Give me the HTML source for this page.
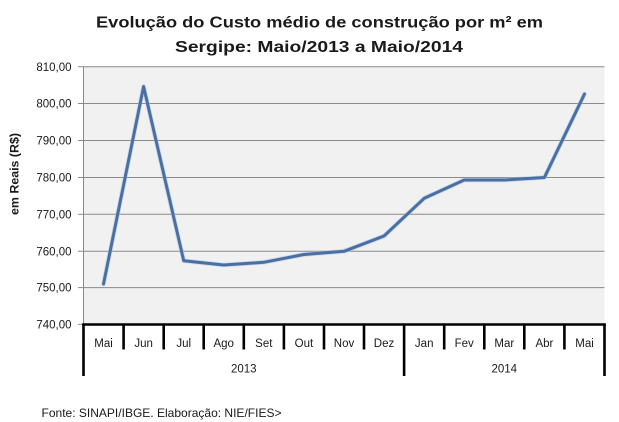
<!DOCTYPE html>
<html>
<head>
<meta charset="utf-8">
<style>
html,body{margin:0;padding:0;background:#fff;}
svg{display:block;}
text{font-family:"Liberation Sans",sans-serif;fill:#1a1a1a;}
</style>
</head>
<body>
<svg width="619" height="422" viewBox="0 0 619 422" xmlns="http://www.w3.org/2000/svg">
  <rect x="0" y="0" width="619" height="422" fill="#ffffff"/>
  <!-- Title -->
  <text x="96" y="27.5" font-size="16" font-weight="bold" textLength="447" lengthAdjust="spacingAndGlyphs">Evolução  do Custo médio de construção  por m² em</text>
  <text x="175" y="52" font-size="16" font-weight="bold" textLength="288" lengthAdjust="spacingAndGlyphs">Sergipe: Maio/2013  a Maio/2014</text>

  <!-- Plot area -->
  <rect x="83.5" y="66.7" width="521" height="257.6" fill="#f1f1f1"/>
  <g stroke="#8a8a8a" stroke-width="1">
    <line x1="83.5" y1="66.7" x2="604.5" y2="66.7"/>
    <line x1="83.5" y1="103.5" x2="604.5" y2="103.5"/>
    <line x1="83.5" y1="140.5" x2="604.5" y2="140.5"/>
    <line x1="83.5" y1="177.5" x2="604.5" y2="177.5"/>
    <line x1="83.5" y1="214.3" x2="604.5" y2="214.3"/>
    <line x1="83.5" y1="251.2" x2="604.5" y2="251.2"/>
    <line x1="83.5" y1="287.6" x2="604.5" y2="287.6"/>
    <line x1="78" y1="66.7" x2="83.5" y2="66.7"/>
    <line x1="78" y1="103.5" x2="83.5" y2="103.5"/>
    <line x1="78" y1="140.5" x2="83.5" y2="140.5"/>
    <line x1="78" y1="177.5" x2="83.5" y2="177.5"/>
    <line x1="78" y1="214.3" x2="83.5" y2="214.3"/>
    <line x1="78" y1="251.2" x2="83.5" y2="251.2"/>
    <line x1="78" y1="287.6" x2="83.5" y2="287.6"/>
    <line x1="78" y1="324.3" x2="83.5" y2="324.3"/>
    <line x1="83.5" y1="66.7" x2="83.5" y2="324.3"/>
  </g>

  <!-- Y labels -->
  <g font-size="11.5" text-anchor="end">
    <text x="71.5" y="70.8">810,00</text>
    <text x="71.5" y="107.6">800,00</text>
    <text x="71.5" y="144.6">790,00</text>
    <text x="71.5" y="181.6">780,00</text>
    <text x="71.5" y="218.4">770,00</text>
    <text x="71.5" y="255.3">760,00</text>
    <text x="71.5" y="291.7">750,00</text>
    <text x="71.5" y="328.4">740,00</text>
  </g>

  <!-- Y axis title -->
  <text transform="translate(18.5,174) rotate(-90)" font-size="12" font-weight="bold" text-anchor="middle" textLength="82" lengthAdjust="spacingAndGlyphs">em Reais (R$)</text>

  <!-- Data line -->
  <polyline fill="none" stroke="#a9c4e6" stroke-width="4.6" stroke-linejoin="round" stroke-linecap="round" opacity="0.55"
    points="103.5,284 143.6,86.5 183.7,260.7 223.7,265 263.8,262.3 303.9,254.5 344,251.3 384,236 424.2,198.3 464.2,180 504.3,180 544.4,177.5 584.5,94"/>
  <polyline fill="none" stroke="#4a6fa3" stroke-width="3" stroke-linejoin="round" stroke-linecap="round"
    points="103.5,284 143.6,86.5 183.7,260.7 223.7,265 263.8,262.3 303.9,254.5 344,251.3 384,236 424.2,198.3 464.2,180 504.3,180 544.4,177.5 584.5,94"/>

  <!-- Category axis -->
  <g stroke="#000" stroke-width="2.6">
    <line x1="82.2" y1="324.5" x2="605.8" y2="324.5"/>
    <line x1="83.5" y1="323.5" x2="83.5" y2="376"/>
    <line x1="123.6" y1="323.5" x2="123.6" y2="349.5"/>
    <line x1="163.7" y1="323.5" x2="163.7" y2="349.5"/>
    <line x1="203.7" y1="323.5" x2="203.7" y2="349.5"/>
    <line x1="243.8" y1="323.5" x2="243.8" y2="349.5"/>
    <line x1="283.9" y1="323.5" x2="283.9" y2="349.5"/>
    <line x1="324" y1="323.5" x2="324" y2="349.5"/>
    <line x1="364" y1="323.5" x2="364" y2="349.5"/>
    <line x1="404.1" y1="323.5" x2="404.1" y2="376"/>
    <line x1="444.2" y1="323.5" x2="444.2" y2="349.5"/>
    <line x1="484.3" y1="323.5" x2="484.3" y2="349.5"/>
    <line x1="524.3" y1="323.5" x2="524.3" y2="349.5"/>
    <line x1="564.4" y1="323.5" x2="564.4" y2="349.5"/>
    <line x1="604.5" y1="323.5" x2="604.5" y2="376"/>
  </g>

  <!-- Month labels -->
  <g font-size="11.5" text-anchor="middle">
    <text x="103.5" y="346.8">Mai</text>
    <text x="143.6" y="346.8">Jun</text>
    <text x="183.7" y="346.8">Jul</text>
    <text x="223.7" y="346.8">Ago</text>
    <text x="263.8" y="346.8">Set</text>
    <text x="303.9" y="346.8">Out</text>
    <text x="344" y="346.8">Nov</text>
    <text x="384" y="346.8">Dez</text>
    <text x="424.2" y="346.8">Jan</text>
    <text x="464.2" y="346.8">Fev</text>
    <text x="504.3" y="346.8">Mar</text>
    <text x="544.4" y="346.8">Abr</text>
    <text x="584.5" y="346.8">Mai</text>
    <text x="243.8" y="372.4">2013</text>
    <text x="504.3" y="372.4">2014</text>
  </g>

  <!-- Footer -->
  <text x="41.5" y="417" font-size="12" textLength="240" lengthAdjust="spacingAndGlyphs">Fonte: SINAPI/IBGE. Elaboração: NIE/FIES&gt;</text>
</svg>
</body>
</html>
